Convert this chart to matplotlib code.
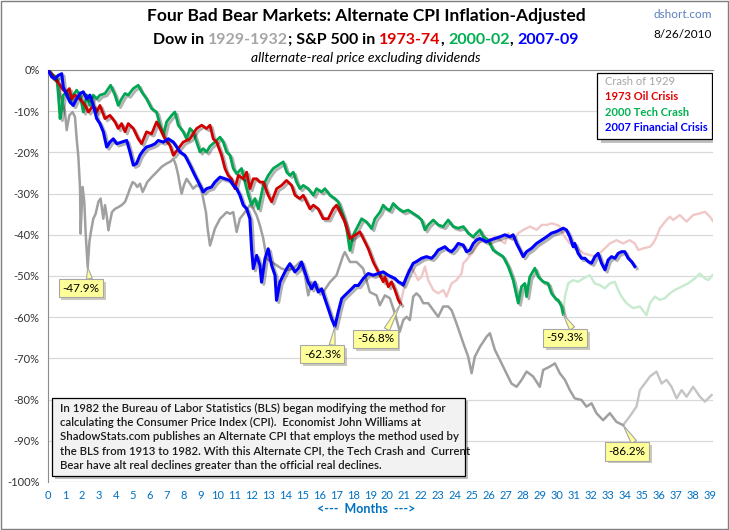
import matplotlib
matplotlib.use('Agg')
import matplotlib.pyplot as plt
import matplotlib.patheffects as pe
from matplotlib.patches import Rectangle

plt.rcParams['font.family'] = ['Lato', 'DejaVu Sans']

# ---------------- data (months from market peak, % alternate-real change) ----------------
crash1929_m = [0, 0.31, 0.61, 0.71, 0.81, 1.00, 1.10, 1.26, 1.45, 1.59, 1.69, 1.79, 1.89, 1.92, 2.04, 2.14, 2.22, 2.34,
               2.44, 2.53, 2.67, 2.81, 2.97, 3.10, 3.18, 3.26, 3.36, 3.46, 3.56, 3.65, 3.77, 3.95, 4.14, 4.34, 4.54,
               4.73, 4.83, 4.99, 5.13, 5.26, 5.42, 5.58, 5.72, 5.85, 6.11, 6.40, 6.70, 6.99, 7.23, 7.39, 7.54, 7.68,
               7.78, 7.88, 8.01, 8.17, 8.37, 8.56, 8.76, 8.96, 9.11, 9.19, 9.31, 9.41, 9.55, 9.70, 9.84, 10.14, 10.34,
               10.53, 10.73, 10.92, 11.12, 11.31, 11.61, 11.90, 12.10, 12.30, 12.49, 12.69, 12.89, 13.18, 13.48, 13.77,
               14.06, 14.46, 14.85, 15.14, 15.34, 15.54, 15.84, 16.22, 16.62, 17.01, 17.40, 17.50, 17.80, 18.19, 18.58,
               18.97, 19.37, 19.56, 19.86, 20.15, 20.45, 20.74, 20.94, 21.14, 21.33, 21.53, 21.72, 21.92, 22.12, 22.41,
               22.71, 23.00, 23.30, 23.59, 23.79, 24.08, 24.48, 24.77, 24.97, 25.16, 25.46, 25.86, 26.05, 26.34, 26.64,
               27.03, 27.32, 27.62, 27.92, 28.21, 28.60, 28.99, 29.19, 29.58, 29.88, 30.17, 30.47, 30.76, 31.05, 31.45,
               31.74, 32.04, 32.33, 32.72, 33.12, 33.51, 33.90]
crash1929_v = [0, -2.1, -3.3, -6.1, -7.0, -10.2, -14.6, -11.0, -10.2, -11.4, -16.7, -21.1, -28.8, -39.7, -28.4, -32.0,
               -39.7, -47.9, -41.7, -39.3, -36.1, -34.9, -32.0, -31.2, -33.7, -36.1, -32.8, -35.3, -38.9, -36.9, -34.5,
               -33.7, -33.3, -32.8, -32.0, -30.0, -28.8, -27.2, -27.6, -28.4, -27.6, -29.6, -28.4, -27.2, -26.0, -24.8,
               -23.5, -22.7, -22.2, -21.5, -23.1, -25.6, -28.0, -30.0, -28.0, -26.4, -27.6, -28.8, -28.0, -28.4, -30.4,
               -32.0, -34.5, -38.5, -42.6, -40.5, -38.5, -36.1, -35.3, -34.5, -34.9, -34.5, -39.3, -36.1, -34.5, -32.8,
               -33.7, -35.3, -37.7, -40.9, -45.8, -46.6, -47.4, -48.2, -48.6, -48.2, -46.6, -49.8, -54.7, -51.5, -53.1,
               -53.9, -51.5, -49.8, -45.0, -44.2, -46.6, -46.6, -48.2, -53.9, -54.7, -57.1, -54.7, -55.4, -59.1, -63.5,
               -60.7, -59.9, -60.7, -55.0, -54.2, -55.0, -56.6, -56.6, -58.3, -59.9, -57.4, -57.4, -58.3, -61.5, -66.3,
               -69.6, -73.6, -69.6, -67.2, -64.7, -63.9, -67.9, -70.4, -73.6, -76.1, -76.9, -75.2, -73.2, -74.4, -76.9,
               -72.8, -72.0, -71.2, -73.6, -75.2, -77.7, -79.7, -80.1, -81.7, -80.9, -83.3, -85.0, -83.3, -85.4, -86.2]
crash1929_after_m = [33.90, 34.29, 34.69, 34.89, 35.18, 35.48, 35.87, 36.17, 36.46, 36.76, 37.05, 37.35, 37.64, 38.03,
                     38.43, 38.72, 39.12]
crash1929_after_v = [-86.2, -84.1, -81.7, -77.7, -76.1, -74.4, -73.2, -76.1, -75.2, -76.9, -79.7, -77.7, -79.3, -76.9,
                     -79.3, -80.5, -78.9]

oil1973_m = [0, 0.12, 0.41, 0.71, 0.90, 1.10, 1.26, 1.39, 1.59, 1.89, 2.18, 2.38, 2.67, 2.87, 3.06, 3.36, 3.65, 3.95,
             4.14, 4.34, 4.54, 4.73, 5.03, 5.32, 5.52, 5.81, 6.11, 6.40, 6.60, 6.89, 7.19, 7.39, 7.68, 7.97, 8.37, 8.76,
             9.06, 9.35, 9.55, 9.74, 9.94, 10.23, 10.43, 10.62, 10.82, 11.02, 11.22, 11.51, 11.71, 11.90, 12.10, 12.30,
             12.49, 12.69, 12.98, 13.18, 13.48, 13.77, 14.06, 14.36, 14.56, 14.85, 15.05, 15.44, 15.64, 15.93, 16.22,
             16.52, 16.81, 17.01, 17.31, 17.50, 17.80, 18.09, 18.39, 18.68, 18.88, 19.17, 19.47, 19.76, 19.86, 20.06,
             20.25, 20.45, 20.65, 20.78]
oil1973_v = [0, -0.5, -2.1, -3.7, -4.9, -5.3, -4.5, -7.0, -6.1, -7.0, -8.6, -10.2, -8.6, -10.2, -8.6, -11.8, -11.0,
             -12.6, -14.2, -13.0, -15.0, -13.0, -14.2, -16.7, -17.9, -15.0, -15.5, -12.6, -14.2, -16.7, -18.3, -20.7,
             -19.1, -17.5, -16.7, -14.2, -13.4, -14.2, -13.4, -16.7, -17.5, -20.7, -23.9, -25.6, -26.4, -28.8, -25.6,
             -26.4, -24.8, -28.8, -26.4, -26.4, -27.2, -27.2, -30.4, -32.0, -28.8, -28.0, -26.8, -28.0, -30.4, -31.2,
             -30.4, -33.7, -32.8, -33.7, -36.1, -36.1, -33.7, -32.8, -35.3, -36.9, -40.9, -40.1, -39.3, -41.7, -43.4,
             -46.6, -49.0, -51.4, -50.2, -52.6, -51.4, -53.4, -55.8, -56.8]
oil1973_after_m = [20.78, 21.04, 21.23, 21.43, 21.63, 21.82, 22.02, 22.22, 22.41, 22.71, 23.00, 23.30, 23.49, 23.79,
                   24.08, 24.38, 24.48, 24.67, 24.97, 25.26, 25.55, 25.75, 26.05, 26.34, 26.64, 26.94, 27.13, 27.43,
                   27.72, 28.02, 28.41, 28.81, 29.10, 29.40, 29.70, 29.99, 30.17, 30.37, 30.76, 31.15, 31.55, 31.94,
                   32.33, 32.72, 33.12, 33.51, 33.90, 34.29, 34.59, 34.79, 35.08, 35.48, 35.67, 35.87, 36.07, 36.46,
                   36.66, 36.85, 37.24, 37.64, 38.03, 38.43, 38.72, 39.02, 39.22]
oil1973_after_v = [-56.8, -51.8, -48.5, -48.1, -49.4, -51.0, -50.2, -47.7, -51.0, -53.4, -54.2, -53.4, -55.0, -51.8,
                   -51.0, -49.4, -46.9, -46.1, -44.5, -42.9, -41.3, -40.5, -41.3, -40.5, -41.3, -42.1, -39.6, -41.3,
                   -39.6, -38.8, -38.0, -38.8, -37.6, -37.6, -37.2, -37.6, -38.0, -40.0, -42.1, -42.9, -44.5, -44.9,
                   -45.3, -43.7, -42.1, -41.3, -42.1, -41.3, -42.1, -43.7, -43.3, -42.9, -42.1, -40.5, -38.4, -36.4,
                   -35.6, -36.4, -35.2, -36.8, -35.2, -34.8, -34.4, -35.6, -36.8]

tech2000_m = [0, 0.31, 0.51, 0.61, 0.71, 0.81, 0.90, 1.10, 1.30, 1.49, 1.69, 1.89, 2.08, 2.28, 2.47, 2.67, 2.87, 3.06,
              3.36, 3.56, 3.69, 3.95, 4.14, 4.34, 4.54, 4.73, 5.03, 5.32, 5.52, 5.81, 6.11, 6.40, 6.60, 6.80, 6.99, 7.29,
              7.48, 7.68, 7.97, 8.17, 8.37, 8.56, 8.76, 8.96, 9.15, 9.35, 9.55, 9.84, 10.14, 10.33, 10.53, 10.73, 10.92,
              11.12, 11.41, 11.61, 11.81, 12.00, 12.20, 12.40, 12.69, 12.98, 13.28, 13.57, 13.87, 14.07, 14.26, 14.46,
              14.65, 14.85, 15.05, 15.34, 15.64, 15.83, 16.13, 16.32, 16.62, 16.91, 17.11, 17.40, 17.60, 17.80, 17.99,
              18.19, 18.49, 18.78, 19.08, 19.27, 19.57, 19.76, 19.96, 20.15, 20.35, 20.64, 20.94, 21.23, 21.53, 21.82,
              22.02, 22.22, 22.41, 22.71, 23.00, 23.30, 23.59, 23.88, 24.18, 24.48, 24.77, 25.07, 25.26, 25.46, 25.66,
              25.95, 26.24, 26.54, 26.83, 27.13, 27.42, 27.72, 27.91, 28.11, 28.21, 28.40, 28.70, 28.90, 29.19, 29.48,
              29.68, 29.98, 30.07, 30.27, 30.37]
tech2000_v = [0, -1.3, -1.7, -6.1, -11.8, -9.4, -6.1, -5.3, -7.8, -6.1, -4.9, -6.1, -10.2, -6.1, -8.6, -6.1, -7.0,
              -6.1, -5.7, -4.5, -3.7, -6.1, -8.6, -7.0, -5.7, -6.1, -4.5, -3.7, -5.3, -7.0, -9.4, -10.2, -13.4, -15.9,
              -12.6, -11.0, -10.2, -13.4, -15.0, -16.7, -14.2, -15.0, -17.5, -19.9, -19.1, -19.9, -18.5, -17.5, -16.3,
              -17.5, -19.9, -20.7, -23.9, -25.2, -23.9, -27.2, -30.4, -32.8, -31.2, -33.7, -28.0, -25.6, -23.9, -23.1,
              -22.3, -24.8, -25.6, -24.8, -27.2, -28.8, -28.0, -28.8, -30.4, -28.8, -29.6, -28.8, -30.4, -31.2, -32.0,
              -35.3, -38.5, -43.8, -40.1, -38.5, -36.1, -36.9, -38.5, -36.1, -34.5, -32.8, -33.7, -34.1, -32.4, -33.6,
              -34.4, -34.0, -34.8, -35.6, -36.4, -38.8, -37.6, -36.4, -37.6, -38.0, -36.4, -38.0, -38.4, -38.0, -39.6,
              -40.5, -39.6, -38.8, -40.5, -41.3, -43.7, -44.5, -45.3, -47.7, -51.0, -56.6, -52.6, -51.8, -55.0, -50.2,
              -48.1, -50.2, -51.4, -51.8, -54.2, -55.8, -55.8, -57.4, -59.3]
tech2000_after_m = [30.37, 30.47, 30.66, 30.96, 31.25, 31.55, 31.94, 32.23, 32.53, 32.82, 33.12, 33.41, 33.61, 33.81,
                    34.10, 34.49, 34.89, 35.28, 35.48, 35.77, 36.07, 36.36, 36.66, 36.95, 37.34, 37.73, 38.13, 38.42,
                    38.72, 38.91, 39.17]
tech2000_after_v = [-59.3, -55.0, -51.8, -51.0, -51.4, -50.6, -49.8, -51.8, -52.2, -53.0, -51.8, -51.4, -53.4, -55.0,
                    -56.6, -57.8, -57.4, -59.5, -56.6, -55.0, -55.8, -55.4, -54.2, -53.4, -52.6, -51.8, -50.6, -49.4,
                    -50.6, -51.0, -49.8]

fin2007_m = [0, 0.22, 0.41, 0.61, 0.81, 0.90, 1.10, 1.30, 1.49, 1.69, 1.89, 2.08, 2.28, 2.47, 2.67, 2.87, 3.06, 3.26,
             3.46, 3.65, 3.85, 4.05, 4.34, 4.64, 4.83, 5.03, 5.22, 5.42, 5.62, 5.81, 6.11, 6.31, 6.50, 6.80, 7.09, 7.39,
             7.78, 8.07, 8.37, 8.66, 8.96, 9.15, 9.35, 9.64, 9.84, 10.14, 10.43, 10.73, 10.92, 11.12, 11.31, 11.51,
             11.71, 11.90, 12.00, 12.10, 12.30, 12.49, 12.59, 12.79, 12.98, 13.18, 13.38, 13.47, 13.67, 13.87, 14.07,
             14.26, 14.55, 14.75, 14.95, 15.14, 15.34, 15.54, 15.74, 15.93, 16.13, 16.32, 16.52, 16.72, 16.91, 17.11,
             17.31, 17.50, 17.70, 17.90, 18.09, 18.29, 18.59, 18.88, 19.17, 19.47, 19.76, 20.05, 20.25, 20.45, 20.64,
             20.84, 20.94, 21.14, 21.33, 21.53, 21.72, 22.02, 22.31, 22.61, 22.80, 23.00, 23.20, 23.40, 23.59, 23.79,
             23.98, 24.18, 24.48, 24.67, 24.87, 25.07, 25.26, 25.46, 25.66, 25.85, 26.05, 26.34, 26.64, 26.94, 27.23,
             27.42, 27.62, 27.82, 28.01, 28.21, 28.50, 28.80, 29.09, 29.39, 29.68, 29.98, 30.17, 30.37, 30.56, 30.76,
             30.96, 31.05, 31.25, 31.45, 31.65, 31.84, 32.04, 32.24, 32.43, 32.63, 32.83, 33.02, 33.22, 33.42, 33.61,
             33.81, 34.00, 34.20, 34.40, 34.59]
fin2007_v = [0, -1.7, -2.1, -1.3, -0.9, -4.1, -6.1, -7.8, -8.6, -7.0, -5.7, -5.3, -7.0, -6.1, -8.6, -11.8, -13.0, -15.0,
             -18.7, -17.5, -16.7, -17.9, -17.5, -17.1, -19.9, -23.1, -22.7, -20.7, -19.5, -18.7, -18.3, -17.9, -17.1,
             -17.5, -16.7, -17.5, -19.9, -20.7, -23.1, -25.6, -28.0, -29.6, -28.8, -28.4, -27.2, -26.0, -26.4, -26.8,
             -28.0, -28.8, -30.4, -32.8, -33.7, -36.1, -43.4, -48.2, -45.0, -47.4, -51.5, -45.8, -43.4, -47.4, -49.8,
             -55.9, -51.5, -49.8, -48.2, -47.0, -49.0, -48.2, -46.6, -49.0, -51.5, -53.1, -51.5, -53.9, -53.1, -55.5,
             -57.9, -60.4, -62.3, -58.7, -55.5, -54.7, -53.9, -53.1, -52.3, -52.3, -50.6, -49.4, -49.8, -49.4, -49.0,
             -49.8, -50.2, -50.6, -51.4, -51.8, -52.2, -50.2, -48.5, -46.9, -46.5, -45.7, -45.3, -45.7, -44.9, -43.7,
             -43.3, -42.9, -43.7, -44.1, -43.3, -42.1, -42.5, -44.1, -43.7, -42.1, -41.3, -40.9, -41.3, -41.7, -41.3,
             -40.9, -40.5, -40.0, -40.5, -40.0, -42.1, -43.7, -45.3, -44.1, -43.3, -42.1, -41.3, -40.5, -39.6, -39.2,
             -38.8, -38.4, -38.8, -40.5, -42.9, -42.1, -44.5, -45.7, -45.7, -46.5, -46.9, -45.3, -44.5, -46.9, -48.5,
             -46.1, -45.3, -45.7, -44.5, -44.1, -44.1, -45.7, -46.5, -47.7]

series_labels = ['Crash of 1929', '1973 Oil Crisis', '2000 Tech Crash', '2007 Financial Crisis']
trough_m = [2.34, 16.91, 20.78, 30.37, 33.90]
trough_v = [-47.9, -62.3, -56.8, -59.3, -86.2]
y_ticks = list(range(0, -101, -10))
x_ticks = list(range(0, 40))

# ---------------- styling ----------------
C_GRAY, C_RED, C_GREEN, C_BLUE = '#A0A0A0', '#D00000', '#00A651', '#0000FF'
C_GRAY_T, C_RED_T, C_GREEN_T, C_BLUE_T = '#A6A6A6', '#E00000', '#00B050', '#0000FF'
AXBLUE = '#0070C0'

fig = plt.figure(figsize=(7.29, 5.30), dpi=100)
fig.patch.set_facecolor('white')
W, H = 729.0, 530.0
L, R, T, B = 48, 713, 70, 482
ax = fig.add_axes([L / W, 1 - B / H, (R - L) / W, (B - T) / H])

shadow = [pe.SimpleLineShadow(offset=(1.6, -1.6), shadow_color='black', alpha=0.3), pe.Normal()]

# faded continuations
ax.plot(crash1929_after_m, crash1929_after_v, color='#C4C4C4', lw=1.7, zorder=2)
ax.plot(oil1973_after_m, oil1973_after_v, color='#F0C8C8', lw=1.7, zorder=2)
ax.plot(tech2000_after_m, tech2000_after_v, color='#C6EBCF', lw=1.7, zorder=2)
# main series
ax.plot(crash1929_m, crash1929_v, color=C_GRAY, lw=1.8, zorder=3)
ax.plot(tech2000_m, tech2000_v, color=C_GREEN, lw=2.0, zorder=4, path_effects=shadow)
ax.plot(oil1973_m, oil1973_v, color=C_RED, lw=2.0, zorder=5, path_effects=shadow)
ax.plot(fin2007_m, fin2007_v, color=C_BLUE, lw=2.2, zorder=6, path_effects=shadow)

ax.set_xlim(0, 39.2)
ax.set_ylim(-100, 0)
ax.set_yticks(y_ticks)
ax.set_yticklabels([f'{t}%' for t in y_ticks])
ax.set_xticks(x_ticks)
ax.set_xticklabels([str(t) for t in x_ticks])
ax.tick_params(axis='both', length=0, labelsize=8)
ax.tick_params(axis='y', pad=6, labelcolor='#333333')
ax.tick_params(axis='x', pad=6, labelcolor=AXBLUE)
ax.grid(axis='y', color='#D9D9D9', lw=0.9, zorder=0)
ax.set_axisbelow(True)
for s in ['right', 'bottom']:
    ax.spines[s].set_visible(False)
ax.spines['left'].set_color('#8C8C8C')
ax.spines['top'].set_color('#8C8C8C')
ax.axhline(-100, color='#D9D9D9', lw=0.9, zorder=0)

# trough callouts
offsets = [(-5, -15), (-9, -20), (-18, -25), (1.5, -17), (3, -19)]
for m, v, off in zip(trough_m, trough_v, offsets):
    t = ax.annotate(f'{v:.1f}%', xy=(m, v), xytext=off, textcoords='offset points',
                    ha='center', va='center', fontsize=8.5, color='black', zorder=10,
                    bbox=dict(boxstyle='square,pad=0.3', fc='#FFFF99', ec='#A6A6A6', lw=0.8),
                    arrowprops=dict(arrowstyle='wedge,tail_width=0.5,shrink_factor=0.5', fc='#FFFF99',
                                    ec='#A6A6A6', lw=0.8, shrinkA=0, shrinkB=0, relpos=(0.75, 1.0)))
    t.get_bbox_patch().set_path_effects([pe.SimplePatchShadow(offset=(2, -2), alpha=0.3), pe.Normal()])

# legend box
lg = Rectangle((0.826, 0.832), 0.172, 0.161, transform=ax.transAxes, fc='white', ec='black', lw=0.9, zorder=11,
               path_effects=[pe.SimplePatchShadow(offset=(2.5, -2.5), alpha=0.35), pe.Normal()])
ax.add_patch(lg)
for i, (lab, col, wt) in enumerate(zip(series_labels, [C_GRAY_T, C_RED_T, C_GREEN_T, C_BLUE_T],
                                       ['normal', 'bold', 'bold', 'bold'])):
    ax.text(0.838, 0.972 - i * 0.037, lab, transform=ax.transAxes, color=col, fontsize=8, fontweight=wt,
            va='center', ha='left', zorder=12)

# note box
nb = Rectangle((0.006, 0.015), 0.621, 0.189, transform=ax.transAxes, fc='#F2F2F2', ec='black', lw=0.9, zorder=11,
               path_effects=[pe.SimplePatchShadow(offset=(2.5, -2.5), alpha=0.35), pe.Normal()])
ax.add_patch(nb)
note = ("In 1982 the Bureau of Labor Statistics (BLS) began modifying the method for\n"
        "calculating the Consumer Price Index (CPI).  Economist John Williams at\n"
        "ShadowStats.com publishes an Alternate CPI that employs the method used by\n"
        "the BLS from 1913 to 1982. With this Alternate CPI, the Tech Crash and  Current\n"
        "Bear have alt real declines greater than the official real declines.")
ax.text(0.018, 0.110, note, transform=ax.transAxes, fontsize=8.2, color='#1A1A1A', va='center', ha='left',
        linespacing=1.35, zorder=12, fontweight='semibold')

# titles
fig.text(366 / W, 1 - 16 / H, 'Four Bad Bear Markets: Alternate CPI Inflation-Adjusted', ha='center', va='center',
         fontsize=12.5, fontweight='bold', color='black')
pieces = [('Dow in ', 'black'), ('1929-1932', C_GRAY_T), ('; S&P 500 in ', 'black'), ('1973-74', C_RED_T),
          (', ', 'black'), ('2000-02', C_GREEN_T), (', ', 'black'), ('2007-09', C_BLUE_T)]
renderer = fig.canvas.get_renderer()
texts = []
total = 0
for s, c in pieces:
    tt = fig.text(0, 1 - 40 / H, s, ha='left', va='center', fontsize=11.5, fontweight='bold', color=c)
    texts.append(tt)
for tt in texts:
    total += tt.get_window_extent(renderer=renderer).width
# measure with combined string for correct spacing
full = fig.text(0, 0, ''.join(p[0] for p in pieces), fontsize=11.5, fontweight='bold')
total = full.get_window_extent(renderer=renderer).width
full.remove()
x = 366 - total / 2
acc = ''
for (s, c), tt in zip(pieces, texts):
    tmp = fig.text(0, 0, acc, fontsize=11.5, fontweight='bold') if acc else None
    off = tmp.get_window_extent(renderer=renderer).width if tmp is not None else 0
    if tmp is not None:
        tmp.remove()
    tt.set_x((x + off) / W)
    acc += s
fig.text(366 / W, 1 - 58 / H, 'allternate-real price excluding dividends', ha='center', va='center',
         fontsize=10, fontstyle='italic', color='black')
fig.text(712 / W, 1 - 14 / H, 'dshort.com', ha='right', va='center', fontsize=8.5, color='#5B7FC0')
fig.text(712 / W, 1 - 34 / H, '8/26/2010', ha='right', va='center', fontsize=8.5, color='black')
fig.text(366 / W, 1 - 509 / H, '<---  Months  --->', ha='center', va='center', fontsize=9, fontweight='bold',
         color=AXBLUE)

# outer border
fig.patches.append(Rectangle((1 / W, 1 / H), 727 / W, 528 / H, transform=fig.transFigure, fill=False,
                             ec='#7F7F7F', lw=1.0))

fig.savefig('out.png', dpi=100)
